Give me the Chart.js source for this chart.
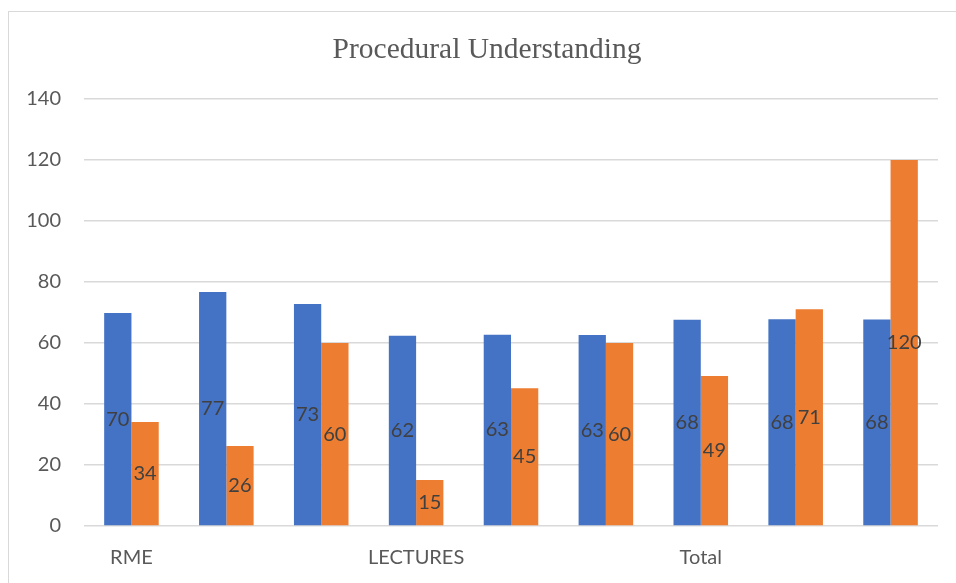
<!DOCTYPE html>
<html>
<head>
<meta charset="utf-8">
<script src="https://cdn.jsdelivr.net/npm/chart.js@4"></script>
<style>
  html, body { margin: 0; padding: 0; background: #fff; overflow: hidden; }
  #frame { position: absolute; left: 8px; top: 11px; width: 1000px; height: 1000px; border: 1px solid #d9d9d9; }
  #wrap { position: absolute; left: 0; top: 0; width: 956px; height: 583px; }
</style>
</head>
<body>
<div id="frame"></div>
<div id="wrap"><canvas id="procChart" width="956" height="583"></canvas></div>
<script>
// nhãn trục x (chỉ hiện ở nhóm đầu)
const categories = ['RME', '', '', 'LECTURES', '', '', 'Total', '', ''];
const blueValues = [69.8, 76.7, 72.8, 62.4, 62.7, 62.6, 67.6, 67.8, 67.7];
const orangeValues = [34.1, 26.2, 60, 15.1, 45.2, 60, 49.2, 71.1, 120];
const yTicks = [0, 20, 40, 60, 80, 100, 120, 140];
const chartTitle = 'Procedural Understanding';

// plugin nhỏ để vẽ số ở giữa cột
const barLabels = {
    id: 'barLabels',
    afterDatasetsDraw(chart) {
        const ctx = chart.ctx;
        ctx.save();
        ctx.font = '20px Lato';
        ctx.fillStyle = '#404040';
        ctx.textAlign = 'center';
        ctx.textBaseline = 'middle';
        chart.data.datasets.forEach((ds, i) => {
            chart.getDatasetMeta(i).data.forEach((bar, j) => {
                const p = bar.getCenterPoint();
                ctx.fillText(Math.round(ds.data[j]), p.x, p.y);
            });
        });
        ctx.restore();
    }
};

// tiêu đề căn giữa theo khung viền
const frameTitle = {
    id: 'frameTitle',
    afterDraw(chart) {
        const ctx = chart.ctx;
        ctx.save();
        ctx.font = '29.5px "Liberation Serif"';
        ctx.fillStyle = '#595959';
        ctx.textAlign = 'center';
        ctx.textBaseline = 'middle';
        ctx.fillText(chartTitle, 487, 50);
        ctx.restore();
    }
};

new Chart(document.getElementById('procChart').getContext('2d'), {
    type: 'bar',
    data: {
        labels: categories,
        datasets: [
            {
                label: 'Series 1',
                data: blueValues,
                backgroundColor: '#4472C4',
                borderWidth: 0
            },
            {
                label: 'Series 2',
                data: orangeValues,
                backgroundColor: '#ED7D31',
                borderWidth: 0
            }
        ]
    },
    options: {
        responsive: false,
        animation: false,
        layout: { padding: { left: 0, right: 18, top: 99, bottom: 0 } },
        plugins: {
            legend: { display: false },
            tooltip: { enabled: false },
            title: { display: false }
        },
        datasets: { bar: { categoryPercentage: 0.575, barPercentage: 1.0 } },
        scales: {
            x: {
                grid: { display: false },
                border: { display: false },
                ticks: {
                    color: '#595959',
                    font: { family: 'Lato', size: 20 },
                    padding: 12,
                    maxRotation: 0,
                    autoSkip: false
                },
                afterFit: s => { s.height = 57; }
            },
            y: {
                min: 0,
                max: 140,
                afterBuildTicks: s => { s.ticks = yTicks.map(v => ({ value: v })); },
                grid: { color: '#d9d9d9', lineWidth: 1.5, drawTicks: false },
                border: { display: false },
                ticks: {
                    color: '#595959',
                    font: { family: 'Lato', size: 20 },
                    padding: 23
                },
                afterFit: s => { s.width = 84; }
            }
        }
    },
    plugins: [barLabels, frameTitle]
});
</script>
</body>
</html>
